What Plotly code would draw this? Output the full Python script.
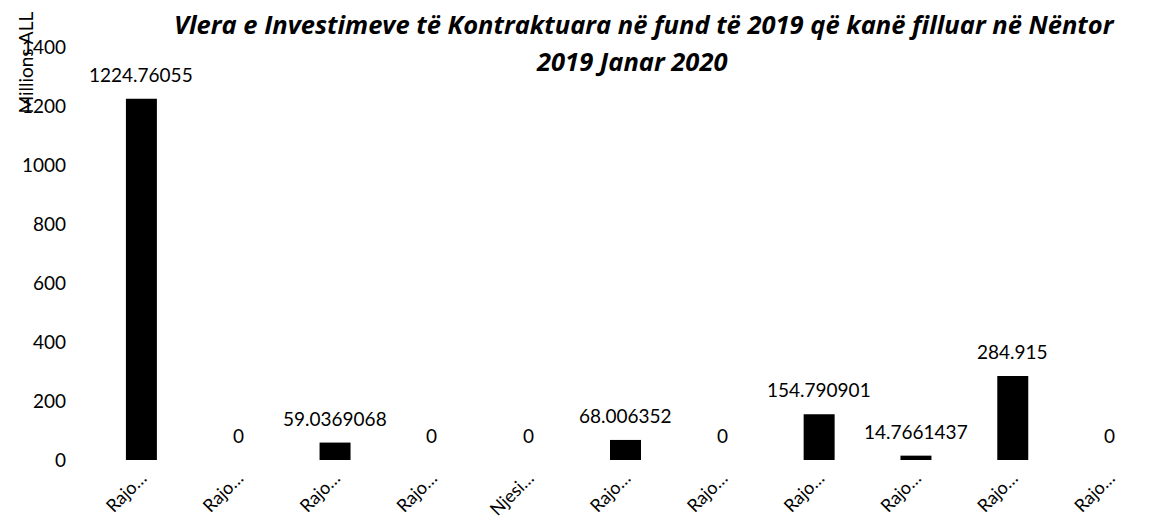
import plotly.graph_objects as go

categories = ["Rajo…", "Rajo…", "Rajo…", "Rajo…", "Njesi…", "Rajo…",
              "Rajo…", "Rajo…", "Rajo…", "Rajo…", "Rajo…"]
values = [1224.76055, 0, 59.0369068, 0, 0, 68.006352, 0, 154.790901,
          14.7661437, 284.915, 0]
value_labels = ["1224.76055", "0", "59.0369068", "0", "0", "68.006352", "0",
                "154.790901", "14.7661437", "284.915", "0"]
y_ticks = [0, 200, 400, 600, 800, 1000, 1200, 1400]
title_lines = ["Vlera e Investimeve të Kontraktuara në fund të 2019 që kanë filluar në Nëntor",
               "2019 Janar 2020"]
y_title = "Millions ALL"

FONT = "Lato"
TITLE_FONT = "Open Sans"
x_idx = list(range(len(categories)))

fig = go.Figure()
fig.add_trace(go.Bar(x=x_idx, y=values, marker=dict(color="#000000", line=dict(width=0)),
                     width=0.32, hoverinfo="skip"))

for i, (v, lab) in enumerate(zip(values, value_labels)):
    fig.add_annotation(x=i, y=v, xref="x", yref="y", text=lab, showarrow=False,
                       yanchor="bottom", yshift=11,
                       font=dict(family=FONT, size=19, color="#000000"))

fig.add_annotation(text=y_title, xref="paper", yref="paper", x=-0.063, y=0.962,
                   showarrow=False, textangle=-90, xanchor="center", yanchor="middle",
                   font=dict(family=FONT, size=19, color="#000000"))

for line, xp, yp in zip(title_lines, [0.518, 0.506], [1.055, 0.966]):
    fig.add_annotation(text="<b><i>" + line + "</i></b>", xref="paper", yref="paper",
                       x=xp, y=yp, showarrow=False, xanchor="center", yanchor="middle",
                       font=dict(family=TITLE_FONT, size=25.5, color="#000000"))

fig.update_layout(
    width=1162, height=524,
    margin=dict(l=85, r=12, t=39, b=72),
    paper_bgcolor="white", plot_bgcolor="white",
    showlegend=False,
    xaxis=dict(tickmode="array", tickvals=x_idx, ticktext=categories,
               tickangle=-45, range=[-0.5, len(categories) - 0.5],
               showgrid=False, zeroline=False, showline=False, ticks="",
               ticklabelstandoff=3,
               tickfont=dict(family=FONT, size=18, color="#000000")),
    yaxis=dict(range=[0, 1400], tickmode="array", tickvals=y_ticks,
               showgrid=False, zeroline=False, showline=False, ticks="",
               ticklabelstandoff=26,
               tickfont=dict(family=FONT, size=19, color="#000000")),
)

fig.write_html("out.html")
